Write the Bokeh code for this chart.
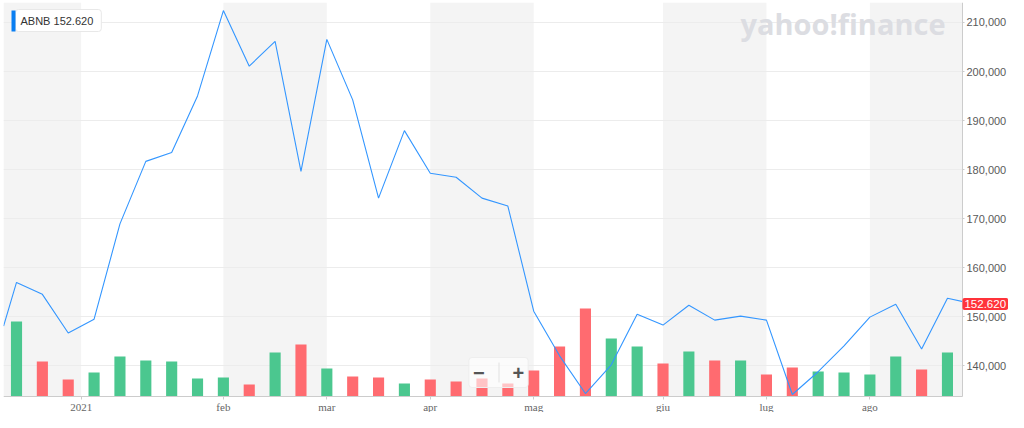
from bokeh.plotting import figure
from bokeh.models import (Range1d, FixedTicker, NumeralTickFormatter, BoxAnnotation, Label)
from bokeh.embed import file_html
from bokeh.resources import INLINE

# ---- data -------------------------------------------------------------
weeks = ["2020-12-07", "2020-12-14", "2020-12-21", "2020-12-28",
         "2021-01-04", "2021-01-11", "2021-01-18", "2021-01-25",
         "2021-02-01", "2021-02-08", "2021-02-15", "2021-02-22",
         "2021-03-01", "2021-03-08", "2021-03-15", "2021-03-22", "2021-03-29",
         "2021-04-05", "2021-04-12", "2021-04-19", "2021-04-26",
         "2021-05-03", "2021-05-10", "2021-05-17", "2021-05-24", "2021-05-31",
         "2021-06-07", "2021-06-14", "2021-06-21", "2021-06-28",
         "2021-07-05", "2021-07-12", "2021-07-19", "2021-07-26",
         "2021-08-02", "2021-08-09", "2021-08-16"]

# line positions (week index; first point sits at the left edge, last is the live quote)
price_x = [-0.5] + list(range(len(weeks))) + [len(weeks)]
price = [148100,
         157000, 154570, 146680, 149510, 168930, 181680, 183500, 195030,
         212430, 201100, 206160, 179660, 206560, 194220, 174190, 187950,
         179250, 178440, 174190, 172580, 151130, 142030, 134340, 140200,
         150520, 148300, 152340, 149310, 150120, 149310, 134140, 138790,
         144050, 149920, 152550, 143440, 153760,
         152620]

# weekly volume (millions)
volume = [37.5, 17.5, 8.5, 12.0, 20.0, 18.0, 17.5, 9.0, 9.5, 6.0,
          22.0, 26.0, 14.0, 10.0, 9.5, 6.5, 8.5, 7.5, 9.0, 6.5,
          13.0, 25.0, 44.0, 29.0, 25.0, 16.5, 22.5, 18.0, 18.0, 11.0,
          14.5, 12.5, 12.0, 11.0, 20.0, 13.5, 22.0]

month_pos = [2.5, 8, 12, 16, 20, 25, 29, 33]
month_labels = ["2021", "feb", "mar", "apr", "mag", "giu", "lug", "ago"]

y_ticks = [140000, 150000, 160000, 170000, 180000, 190000, 200000, 210000]
ticker_name = "ABNB"
last_quote = "152.620"

# ---- figure -----------------------------------------------------------
UP, DOWN = "#4bc78f", "#ff6b70"
colors = [UP if price[i + 1] >= price[i] else DOWN for i in range(len(weeks))]
idx = list(range(len(weeks)))

X0, X1 = -0.503, 38.36      # visible week-index span
AX = 36.58                  # where the price axis sits
Y0, Y1 = 130473, 214078     # visible price span
AY = 133735                 # where the time axis sits

p = figure(width=1008, height=412, output_backend="svg", toolbar_location=None,
           x_range=Range1d(X0, X1), y_range=Range1d(Y0, Y1),
           y_axis_location="right", min_border_left=3, min_border_top=2,
           min_border_bottom=0, min_border_right=0,
           background_fill_color="white", border_fill_color="white")
p.outline_line_color = None

# alternating month shading
bands = [(None, month_pos[0])] + [(month_pos[i], month_pos[i + 1]) for i in range(1, len(month_pos) - 1, 2)] + [(month_pos[-1], AX)]
for l, r in bands:
    p.add_layout(BoxAnnotation(left=l, right=r, bottom=AY, fill_color="#f4f4f4", fill_alpha=1.0,
                               line_color=None, level="image"))

p.extra_y_ranges = {"vol": Range1d(-8, 197)}
p.vbar(x=idx, top=volume, width=0.43, y_range_name="vol", fill_color=colors, line_color=None)

p.line(price_x, price, line_color="#3396ff", line_width=1.1)
p.scatter([price_x[-1]], [price[-1]], size=7, color="#1a86f5")

# axes
p.xgrid.visible = False
p.ygrid.grid_line_color = "#ececec"
p.ygrid.ticker = FixedTicker(ticks=y_ticks)
p.ygrid.cross_bounds = (X0, AX)

ya = p.yaxis[0]
ya.fixed_location = AX
ya.bounds = (AY, Y1)
ya.ticker = FixedTicker(ticks=y_ticks)
ya.formatter = NumeralTickFormatter(format="0,0")
ya.axis_line_color = "#cccccc"
ya.major_tick_line_color = "#cccccc"
ya.major_tick_out = 2
ya.major_tick_in = 0
ya.minor_tick_line_color = None
ya.major_label_standoff = 2
ya.major_label_text_font = "Liberation Sans"
ya.major_label_text_font_size = "11px"
ya.major_label_text_color = "#5a5a5a"

xa = p.xaxis[0]
xa.fixed_location = AY
xa.bounds = (X0, AX)
xa.ticker = FixedTicker(ticks=month_pos)
xa.major_label_overrides = {float(k): v for k, v in zip(month_pos, month_labels)}
xa.axis_line_color = "#cccccc"
xa.major_tick_line_color = "#cccccc"
xa.major_tick_out = 3
xa.major_tick_in = 0
xa.minor_tick_line_color = None
xa.major_label_standoff = 1
xa.major_label_text_font = "Liberation Serif"
xa.major_label_text_font_size = "11px"
xa.major_label_text_color = "#666666"

# watermark
p.add_layout(Label(x=737, y=389, x_units="screen", y_units="screen", text="yahoo!finance",
                   text_font="Open Sans", text_font_style="bold", text_font_size="29px",
                   text_color="#dcdde2", text_baseline="middle"))

# quote box (top-left)
p.add_layout(Label(x=12, y=392, x_units="screen", y_units="screen",
                   text=ticker_name + "  " + last_quote, text_font="Liberation Sans",
                   text_font_size="11px", text_color="#333333", text_baseline="middle",
                   background_fill_color="white", border_line_color="#e8e8e8",
                   padding=5, border_radius=3))
p.add_layout(BoxAnnotation(left=8, right=12, top=402, bottom=381,
                           left_units="screen", right_units="screen",
                           top_units="screen", bottom_units="screen",
                           fill_color="#0a7ff2", fill_alpha=1, line_color=None))

# price tag (right, on the axis)
p.add_layout(Label(x=AX, y=price[-1], text=last_quote, text_font="Liberation Sans",
                   text_font_size="11.5px", text_color="white", text_baseline="middle",
                   background_fill_color="#ff333a", padding=2, border_radius=2))

# zoom buttons
p.add_layout(Label(x=495, y=40, x_units="screen", y_units="screen",
                   text="\u2212\u00a0\u00a0\u00a0\u00a0\u00a0+", text_font="Liberation Sans",
                   text_font_style="bold",
                   text_font_size="20px", text_color="#555555", text_align="center",
                   text_baseline="middle",
                   background_fill_color="white", background_fill_alpha=0.6,
                   border_line_color="#eeeeee", padding=4, border_radius=3))
p.add_layout(BoxAnnotation(left=495, right=496, top=50, bottom=30,
                           left_units="screen", right_units="screen",
                           top_units="screen", bottom_units="screen",
                           fill_color="#e2e2e2", fill_alpha=1, line_color=None))

open("out.html", "w").write(file_html(p, INLINE))
